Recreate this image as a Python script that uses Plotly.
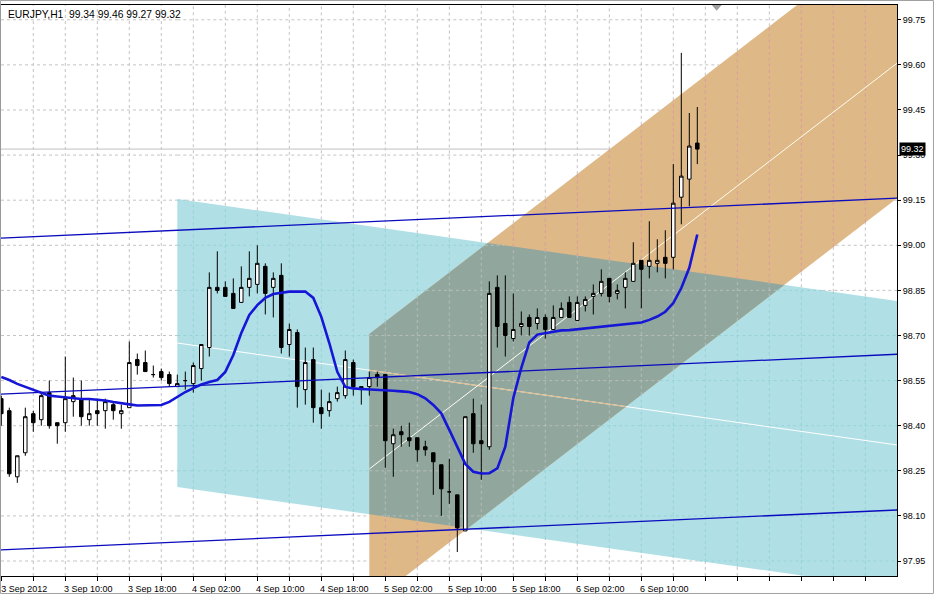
import plotly.graph_objects as go
import pandas as pd

# ---------------- data ----------------
symbol = "EURJPY,H1"
times = pd.date_range("2012-09-03 02:00", periods=88, freq="h")

opens = [98.49, 98.45, 98.23, 98.31, 98.44, 98.42, 98.51, 98.41, 98.41, 98.48,
         98.49, 98.42, 98.45, 98.45, 98.47, 98.44, 98.46, 98.62, 98.61, 98.57,
         98.58, 98.57, 98.53, 98.55, 98.54, 98.59, 98.66, 98.86, 98.86, 98.84,
         98.81, 98.86, 98.87, 98.93, 98.86, 98.90, 98.67, 98.71, 98.52, 98.62,
         98.46, 98.45, 98.49, 98.50, 98.61, 98.53, 98.53, 98.57, 98.57, 98.34,
         98.38, 98.36, 98.36, 98.33, 98.31, 98.27, 98.18, 98.17, 98.05, 98.44,
         98.35, 98.33, 98.86, 98.74, 98.69, 98.73, 98.76, 98.74, 98.76, 98.72,
         98.76, 98.81, 98.75, 98.80, 98.83, 98.84, 98.89, 98.84, 98.86, 98.88,
         98.95, 98.93, 98.94, 98.96, 98.96, 99.16, 99.22, 99.34]
highs = [98.50, 98.46, 98.30, 98.46, 98.45, 98.51, 98.55, 98.41, 98.63, 98.56,
         98.55, 98.49, 98.49, 98.49, 98.48, 98.47, 98.68, 98.64, 98.65, 98.60,
         98.59, 98.58, 98.57, 98.58, 98.61, 98.67, 98.91, 98.98, 98.88, 98.89,
         98.93, 98.98, 99.00, 98.94, 98.91, 98.94, 98.74, 98.72, 98.66, 98.66,
         98.52, 98.51, 98.53, 98.65, 98.62, 98.53, 98.58, 98.58, 98.57, 98.39,
         98.40, 98.41, 98.36, 98.35, 98.31, 98.27, 98.29, 98.17, 98.43, 98.49,
         98.47, 98.88, 98.90, 98.90, 98.84, 98.78, 98.77, 98.79, 98.77, 98.80,
         98.81, 98.83, 98.83, 98.83, 98.87, 98.92, 98.89, 98.87, 98.91, 99.01,
         98.95, 99.08, 99.02, 99.05, 99.27, 99.64, 99.44, 99.46]
lows = [98.40, 98.23, 98.21, 98.30, 98.38, 98.40, 98.39, 98.34, 98.38, 98.43,
        98.40, 98.40, 98.40, 98.39, 98.42, 98.39, 98.46, 98.57, 98.58, 98.56,
        98.55, 98.53, 98.53, 98.52, 98.51, 98.55, 98.63, 98.84, 98.83, 98.79,
        98.81, 98.83, 98.84, 98.77, 98.76, 98.64, 98.63, 98.46, 98.47, 98.41,
        98.39, 98.43, 98.48, 98.49, 98.50, 98.47, 98.50, 98.53, 98.26, 98.23,
        98.33, 98.33, 98.28, 98.30, 98.17, 98.10, 98.14, 97.98, 98.05, 98.31,
        98.22, 98.32, 98.66, 98.63, 98.68, 98.70, 98.70, 98.72, 98.69, 98.72,
        98.76, 98.76, 98.75, 98.78, 98.77, 98.83, 98.81, 98.82, 98.79, 98.88,
        98.79, 98.89, 98.91, 98.89, 98.92, 99.07, 99.13, 99.27]
closes = [98.44, 98.24, 98.30, 98.43, 98.41, 98.50, 98.40, 98.40, 98.49, 98.50,
          98.43, 98.44, 98.44, 98.48, 98.45, 98.45, 98.61, 98.60, 98.58, 98.57,
          98.56, 98.54, 98.54, 98.55, 98.60, 98.67, 98.86, 98.85, 98.83, 98.79,
          98.86, 98.89, 98.94, 98.84, 98.89, 98.66, 98.72, 98.53, 98.61, 98.46,
          98.44, 98.48, 98.51, 98.62, 98.53, 98.52, 98.56, 98.56, 98.35, 98.37,
          98.37, 98.35, 98.32, 98.32, 98.28, 98.19, 98.18, 98.06, 98.43, 98.34,
          98.34, 98.84, 98.73, 98.70, 98.72, 98.74, 98.73, 98.76, 98.72, 98.76,
          98.79, 98.76, 98.81, 98.82, 98.84, 98.88, 98.83, 98.85, 98.89, 98.94,
          98.92, 98.95, 98.95, 98.94, 99.14, 99.23, 99.33, 99.32]
ma_line = [98.562, 98.552, 98.539, 98.529, 98.519, 98.509, 98.500, 98.497, 98.494, 98.492,
           98.489, 98.489, 98.487, 98.484, 98.479, 98.474, 98.471, 98.467, 98.467, 98.467,
           98.469, 98.479, 98.495, 98.512, 98.525, 98.537, 98.545, 98.552, 98.579, 98.635,
           98.708, 98.768, 98.801, 98.825, 98.838, 98.843, 98.846, 98.846, 98.846, 98.825,
           98.762, 98.675, 98.579, 98.529, 98.524, 98.522, 98.521, 98.519, 98.517, 98.516,
           98.514, 98.512, 98.505, 98.491, 98.469, 98.441, 98.386, 98.330, 98.273, 98.247,
           98.241, 98.242, 98.258, 98.330, 98.492, 98.592, 98.677, 98.703, 98.708, 98.713,
           98.717, 98.718, 98.721, 98.724, 98.727, 98.729, 98.732, 98.735, 98.737, 98.740,
           98.743, 98.752, 98.763, 98.779, 98.808, 98.858, 98.925, 99.036]

# regression channel (light blue): start bar, upper/lower price at start, slope per bar
blue_start, blue_top0, blue_bot0, blue_slope = 22, 99.154, 98.196, -0.00377
# regression channel (tan)
tan_start, tan_top0, tan_bot0, tan_slope = 46, 98.705, 97.807, 0.02046
# standard deviation channel (three thin blue lines), price at bar 0 and slope
std_levels = [99.024, 98.505, 97.987]
std_slope = 0.001184

price_ticks = [round(97.95 + 0.15 * k, 2) for k in range(13)]

# ---------------- layout constants ----------------
X_MIN, X_MAX = -0.0375, 111.9625
Y_MIN, Y_MAX = 97.9001, 99.7992
X_END = 125
FONT = "Liberation Sans"
GRID_COLORS = {"white": "#C4C4C4", "blue": "#97D2D8", "tan": "#DA9D9D", "both": "#B6BDB8"}
GRID_DASH = "3px,3px"

bars = list(range(len(opens)))
last_o, last_h, last_l, last_c = opens[-1], highs[-1], lows[-1], closes[-1]


def line_fn(x0, y0, slope):
    return lambda x: y0 + slope * (x - x0)


b_top = line_fn(blue_start, blue_top0, blue_slope)
b_bot = line_fn(blue_start, blue_bot0, blue_slope)
b_mid = line_fn(blue_start, (blue_top0 + blue_bot0) / 2, blue_slope)
t_top = line_fn(tan_start, tan_top0, tan_slope)
t_bot = line_fn(tan_start, tan_bot0, tan_slope)
t_mid = line_fn(tan_start, (tan_top0 + tan_bot0) / 2, tan_slope)


def chan_path(start, top, bot):
    return (f"M {start},{top(start)} L {X_END},{top(X_END)} "
            f"L {X_END},{bot(X_END)} L {start},{bot(start)} Z")


def crossing(f, g, lo, hi):
    d0 = f(lo) - g(lo)
    d1 = f(hi) - g(hi)
    if d0 == d1:
        return None
    x = lo + (hi - lo) * d0 / (d0 - d1)
    return x if lo <= x <= hi else None


def in_blue(x, y):
    return x >= blue_start and b_bot(x) <= y <= b_top(x)


def in_tan(x, y):
    return x >= tan_start and t_bot(x) <= y <= t_top(x)


def region(x, y):
    b, t = in_blue(x, y), in_tan(x, y)
    if b and t:
        return "both"
    if b:
        return "blue"
    if t:
        return "tan"
    return "white"


# overlap polygon of the two channels
x_lo = max(blue_start, tan_start)
fns = [b_top, b_bot, t_top, t_bot]
xs = {x_lo, X_END}
for i in range(4):
    for j in range(i + 1, 4):
        c = crossing(fns[i], fns[j], x_lo, X_END)
        if c is not None:
            xs.add(c)
xs = sorted(xs)
upper, lower = [], []
for x in xs:
    u = min(b_top(x), t_top(x))
    lo_ = max(b_bot(x), t_bot(x))
    if u >= lo_ - 1e-9:
        upper.append((x, u))
        lower.append((x, lo_))
poly = upper + lower[::-1]
overlap_path = "M " + " L ".join(f"{x},{y}" for x, y in poly) + " Z"

# part of the blue mid line that lies inside the tan channel
seg_end = crossing(b_mid, t_bot, tan_start, X_END) or X_END

# ---------------- grid drawn per background region ----------------
grid_shapes = []
x_grid = list(range(4, 112, 4))
for gx in x_grid:
    ys = [Y_MIN, Y_MAX]
    if gx >= blue_start:
        ys += [b_bot(gx), b_top(gx)]
    if gx >= tan_start:
        ys += [t_bot(gx), t_top(gx)]
    ys = sorted(v for v in set(ys) if Y_MIN <= v <= Y_MAX)
    for a, b in zip(ys[:-1], ys[1:]):
        col = GRID_COLORS[region(gx, (a + b) / 2)]
        grid_shapes.append(dict(type="line", xref="x", yref="y", x0=gx, x1=gx, y0=a, y1=b,
                                line=dict(color=col, width=1, dash=GRID_DASH), layer="between"))

for gy in price_ticks:
    cuts = [X_MIN, X_MAX, blue_start, tan_start]
    for f, s, lo in [(b_top, blue_slope, blue_start), (b_bot, blue_slope, blue_start),
                     (t_top, tan_slope, tan_start), (t_bot, tan_slope, tan_start)]:
        if s != 0:
            xc = lo + (gy - f(lo)) / s
            cuts.append(xc)
    cuts = sorted(v for v in set(cuts) if X_MIN <= v <= X_MAX)
    for a, b in zip(cuts[:-1], cuts[1:]):
        reg = region((a + b) / 2, gy)
        if reg == "tan":
            continue
        grid_shapes.append(dict(type="line", xref="x", yref="y", x0=a, x1=b, y0=gy, y1=gy,
                                line=dict(color=GRID_COLORS[reg], width=1, dash=GRID_DASH),
                                layer="between"))

shapes = [
    dict(type="path", path=chan_path(blue_start, b_top, b_bot), xref="x", yref="y",
         fillcolor="#B0E0E6", line=dict(width=0), layer="below"),
    dict(type="path", path=chan_path(tan_start, t_top, t_bot), xref="x", yref="y",
         fillcolor="#DEB887", line=dict(width=0), layer="below"),
    dict(type="path", path=overlap_path, xref="x", yref="y",
         fillcolor="#91A79E", line=dict(width=0), layer="below"),
] + grid_shapes + [
    dict(type="line", xref="x", yref="y", x0=blue_start, y0=b_mid(blue_start),
         x1=X_END, y1=b_mid(X_END), line=dict(color="white", width=1), layer="between"),
    dict(type="line", xref="x", yref="y", x0=tan_start, y0=b_mid(tan_start),
         x1=seg_end, y1=b_mid(seg_end), line=dict(color="#DEB887", width=1), layer="between"),
    dict(type="line", xref="x", yref="y", x0=tan_start, y0=t_mid(tan_start),
         x1=X_END, y1=t_mid(X_END), line=dict(color="#FFFDF0", width=1), layer="between"),
    # current price line
    dict(type="line", xref="paper", yref="y", x0=0, x1=1, y0=last_c, y1=last_c,
         line=dict(color="#C0C0C0", width=1), layer="between"),
    # chart shift marker
    dict(type="path", xref="x", yref="paper",
         path="M 88.8,1.0 L 90.05,1.0 L 89.42,0.990 Z",
         fillcolor="#A0A0A0", line=dict(width=0), layer="above"),
    # window frame
    dict(type="rect", xref="paper", yref="paper", x0=-0.0006, x1=1.0407,
         y0=-0.0306, y1=1.0079, line=dict(color="#A0A0A0", width=1), layer="above"),
]

fig = go.Figure()

fig.add_trace(go.Candlestick(
    x=bars, open=opens, high=highs, low=lows, close=closes,
    increasing=dict(line=dict(color="black", width=1), fillcolor="white"),
    decreasing=dict(line=dict(color="black", width=1), fillcolor="black"),
    whiskerwidth=0, hoverinfo="skip", showlegend=False,
))

for lvl in std_levels:
    f = line_fn(0, lvl, std_slope)
    fig.add_trace(go.Scatter(x=[-2, X_END], y=[f(-2), f(X_END)], mode="lines",
                             line=dict(color="#0A0ABE", width=1.3),
                             hoverinfo="skip", showlegend=False))

fig.add_trace(go.Scatter(x=bars, y=ma_line, mode="lines",
                         line=dict(color="#1616D6", width=2.6),
                         hoverinfo="skip", showlegend=False))

# x tick labels
tickvals = list(range(0, 112, 4))
ticktext = []
for v in tickvals:
    if v % 8 == 0 and v < len(times):
        t = times[v]
        if v == 0:
            ticktext.append(f"{t.day} {t.strftime('%b')} {t.year}")
        else:
            ticktext.append(f"{t.day} {t.strftime('%b')} {t.strftime('%H:%M')}")
    else:
        ticktext.append("")

fig.update_layout(
    width=938, height=597,
    margin=dict(l=1, r=41, t=5, b=21, pad=0),
    paper_bgcolor="white", plot_bgcolor="white",
    boxgap=0.38,
    shapes=shapes,
    font=dict(family=FONT, size=9, color="black"),
    annotations=[
        dict(xref="paper", yref="paper", x=0, y=1, xanchor="left", yanchor="middle",
             xshift=5, yshift=-9, showarrow=False,
             text=f"{symbol}\u00a0 {last_o:.2f} {last_h:.2f} {last_l:.2f} {last_c:.2f}",
             font=dict(family=FONT, size=10.3, color="black")),
        dict(xref="paper", yref="y", x=1, y=last_c, xanchor="left", yanchor="middle",
             xshift=2, showarrow=False, text=f"{last_c:.2f}", bgcolor="black",
             borderpad=1, font=dict(family=FONT, size=9, color="white")),
    ],
)

fig.update_xaxes(
    range=[X_MIN, X_MAX], rangeslider_visible=False,
    tickmode="array", tickvals=tickvals, ticktext=ticktext,
    ticks="outside", ticklen=4, tickcolor="black",
    ticklabelshift=23, ticklabelstandoff=0,
    tickfont=dict(family=FONT, size=9, color="black"),
    showgrid=False,
    showline=True, linecolor="black", linewidth=1, mirror=True,
    zeroline=False, fixedrange=True,
)
fig.update_yaxes(
    range=[Y_MIN, Y_MAX], side="right",
    tickmode="array", tickvals=price_ticks, ticktext=[f"{v:.2f}" for v in price_ticks],
    ticks="outside", ticklen=3, tickcolor="black",
    tickfont=dict(family=FONT, size=9, color="black"),
    showgrid=False,
    showline=True, linecolor="black", linewidth=1, mirror=True,
    zeroline=False, fixedrange=True,
)

fig.write_html("out.html", config={"displayModeBar": False},
               post_script="document.body.style.margin='0px';document.body.style.overflow='hidden';")
